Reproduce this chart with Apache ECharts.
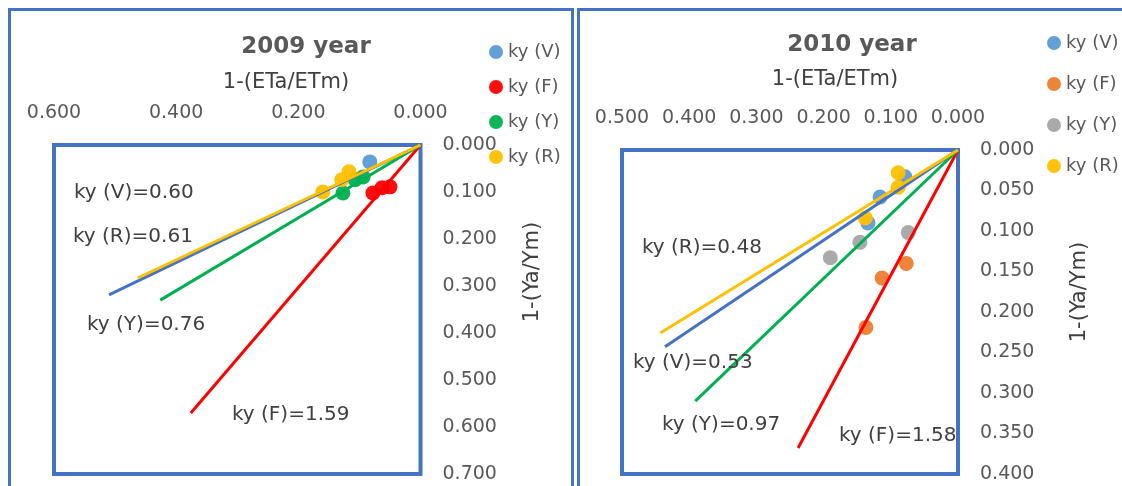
<!DOCTYPE html>
<html>
<head>
<meta charset="utf-8">
<script src="https://cdn.jsdelivr.net/npm/echarts@6/dist/echarts.min.js"></script>
<style>
  html, body { margin: 0; padding: 0; background: #ffffff; }
  #chart { width: 1122px; height: 486px; }
</style>
</head>
<body>
<div id="chart"></div>
<script>
// ---------- data ----------
const seriesNames = ['ky (V)', 'ky (F)', 'ky (Y)', 'ky (R)'];

// 2009 panel: measured points [1-(ETa/ETm), 1-(Ya/Ym)]
const pts2009V = [[0.083, 0.036]];
const pts2009F = [[0.078, 0.102], [0.063, 0.091], [0.050, 0.089]];
const pts2009Y = [[0.127, 0.102], [0.107, 0.074], [0.094, 0.068]];
const pts2009R = [[0.117, 0.057], [0.129, 0.074], [0.160, 0.100]];
// 2009 fitted lines through origin
const fit2009V = [[0, 0], [0.510, 0.319]];
const fit2009F = [[0, 0], [0.376, 0.570]];
const fit2009Y = [[0, 0], [0.426, 0.330]];
const fit2009R = [[0, 0], [0.463, 0.283]];
const notes2009 = ['ky (V)=0.60', 'ky (R)=0.61', 'ky (Y)=0.76', 'ky (F)=1.59'];

// 2010 panel
const pts2010V = [[0.079, 0.033], [0.116, 0.058], [0.134, 0.090]];
const pts2010F = [[0.077, 0.140], [0.113, 0.158], [0.137, 0.219]];
const pts2010Y = [[0.190, 0.133], [0.146, 0.114], [0.074, 0.102]];
const pts2010R = [[0.089, 0.028], [0.089, 0.046], [0.138, 0.084]];
const fit2010V = [[0, 0], [0.436, 0.243]];
const fit2010F = [[0, 0], [0.238, 0.368]];
const fit2010Y = [[0, 0], [0.391, 0.310]];
const fit2010R = [[0, 0], [0.443, 0.226]];
const notes2010 = ['ky (R)=0.48', 'ky (V)=0.53', 'ky (Y)=0.97', 'ky (F)=1.58'];

// axis ranges / ticks
const x2009 = { min: 0, max: 0.6, interval: 0.2 };
const y2009 = { min: 0, max: 0.7, interval: 0.1 };
const x2010 = { min: 0, max: 0.5, interval: 0.1 };
const y2010 = { min: 0, max: 0.4, interval: 0.05 };

const titles = ['2009 year', '2010 year'];
const xName = '1-(ETa/ETm)';
const yName = '1-(Ya/Ym)';

// ---------- styles ----------
const FONT = 'DejaVu Sans';
const TXT = '#595959';
const FRAME = '#4472C4';
const pointColors2009 = ['#5B9BD5', '#FF0000', '#00B050', '#FFC000'];
const pointColors2010 = ['#5B9BD5', '#ED7D31', '#A5A5A5', '#FFC000'];
const lineColors = ['#4472C4', '#FF0000', '#00B050', '#FFC000'];

function xAxisCfg(r, gi) {
  return {
    type: 'value', gridIndex: gi, position: 'top', inverse: true,
    min: r.min, max: r.max, interval: r.interval,
    axisLine: { show: false }, axisTick: { show: false }, splitLine: { show: false },
    axisLabel: { margin: 22, fontFamily: FONT, fontSize: 19, color: TXT,
      showMinLabel: true, showMaxLabel: true, formatter: v => v.toFixed(3) }
  };
}
function yAxisCfg(r, gi) {
  return {
    type: 'value', gridIndex: gi, position: 'right', inverse: true,
    min: r.min, max: r.max, interval: r.interval,
    axisLine: { show: false }, axisTick: { show: false }, splitLine: { show: false },
    axisLabel: { margin: 22, fontFamily: FONT, fontSize: 19, color: TXT,
      showMinLabel: true, showMaxLabel: true, formatter: v => v.toFixed(3) }
  };
}

const pts2009 = [pts2009V, pts2009F, pts2009Y, pts2009R];
const fits2009 = [fit2009V, fit2009F, fit2009Y, fit2009R];
const pts2010 = [pts2010V, pts2010F, pts2010Y, pts2010R];
const fits2010 = [fit2010V, fit2010F, fit2010Y, fit2010R];

const series = [];
function addPanel(pts, fits, colors, gi, suffix) {
  pts.forEach((d, i) => {
    series.push({
      type: 'scatter', name: seriesNames[i] + suffix, xAxisIndex: gi, yAxisIndex: gi,
      data: d, symbolSize: 15, itemStyle: { color: colors[i], opacity: 0.95 }, z: 2
    });
  });
  fits.forEach((d, i) => {
    series.push({
      type: 'line', name: 'fit ' + seriesNames[i] + suffix, xAxisIndex: gi, yAxisIndex: gi,
      data: d, showSymbol: false, symbol: 'none', lineStyle: { color: lineColors[i], width: 3 },
      z: 3, silent: true
    });
  });
}
addPanel(pts2009, fits2009, pointColors2009, 0, '');
addPanel(pts2010, fits2010, pointColors2010, 1, ' ');

function legendCfg(left, top, gap, suffix, colors) {
  return {
    orient: 'vertical', left: left, top: top, padding: 0, itemGap: gap,
    itemWidth: 14, itemHeight: 14, icon: 'circle', selectedMode: false,
    data: seriesNames.map((n, i) => ({ name: n + suffix, itemStyle: { color: colors[i] } })),
    formatter: n => n.trim(),
    textStyle: { fontFamily: FONT, fontSize: 18, color: TXT, lineHeight: 18 }
  };
}

function txt(text, x, y, opts) {
  return Object.assign({
    type: 'text', x: x, y: y, z: 10,
    style: Object.assign({ text: text, fontFamily: FONT, fontSize: 20, fill: '#404040',
      textAlign: 'left', textVerticalAlign: 'middle' }, (opts && opts.style) || {})
  }, opts && opts.rotation !== undefined ? { rotation: opts.rotation } : {});
}

const graphic = [
  { type: 'rect', shape: { x: 9.5, y: 9.5, width: 563, height: 520 },
    style: { fill: 'none', stroke: FRAME, lineWidth: 3 }, z: 0 },
  { type: 'rect', shape: { x: 578.5, y: 9.5, width: 560, height: 520 },
    style: { fill: 'none', stroke: FRAME, lineWidth: 3 }, z: 0 },
  txt(titles[0], 306, 47, { style: { fontSize: 23, fontWeight: 'bold', fill: TXT, textAlign: 'center' } }),
  txt(titles[1], 852, 45, { style: { fontSize: 23, fontWeight: 'bold', fill: TXT, textAlign: 'center' } }),
  txt(xName, 286, 83, { style: { fontSize: 21, fill: '#404040', textAlign: 'center' } }),
  txt(xName, 835, 80, { style: { fontSize: 21, fill: '#404040', textAlign: 'center' } }),
  txt(yName, 533, 272, { rotation: Math.PI / 2, style: { fontSize: 21, fill: '#404040', textAlign: 'center' } }),
  txt(yName, 1080, 292, { rotation: Math.PI / 2, style: { fontSize: 21, fill: '#404040', textAlign: 'center' } }),
  txt(notes2009[0], 74, 193),
  txt(notes2009[1], 73, 237),
  txt(notes2009[2], 87, 325),
  txt(notes2009[3], 232, 415),
  txt(notes2010[0], 642, 248),
  txt(notes2010[1], 633, 363),
  txt(notes2010[2], 662, 425),
  txt(notes2010[3], 839, 436)
];

const option = {
  backgroundColor: '#ffffff',
  animation: false,
  grid: [
    { left: 54, top: 145, width: 366.5, height: 329, show: true, borderColor: FRAME, borderWidth: 4, backgroundColor: 'transparent' },
    { left: 622, top: 150, width: 336, height: 324, show: true, borderColor: FRAME, borderWidth: 4, backgroundColor: 'transparent' }
  ],
  xAxis: [xAxisCfg(x2009, 0), xAxisCfg(x2010, 1)],
  yAxis: [yAxisCfg(y2009, 0), yAxisCfg(y2010, 1)],
  legend: [
    legendCfg(489, 43, 17, '', pointColors2009),
    legendCfg(1047, 34, 23, ' ', pointColors2010)
  ],
  graphic: graphic,
  series: series
};

const chart = echarts.init(document.getElementById('chart'), null, { renderer: 'canvas' });
chart.setOption(option);
</script>
</body>
</html>
